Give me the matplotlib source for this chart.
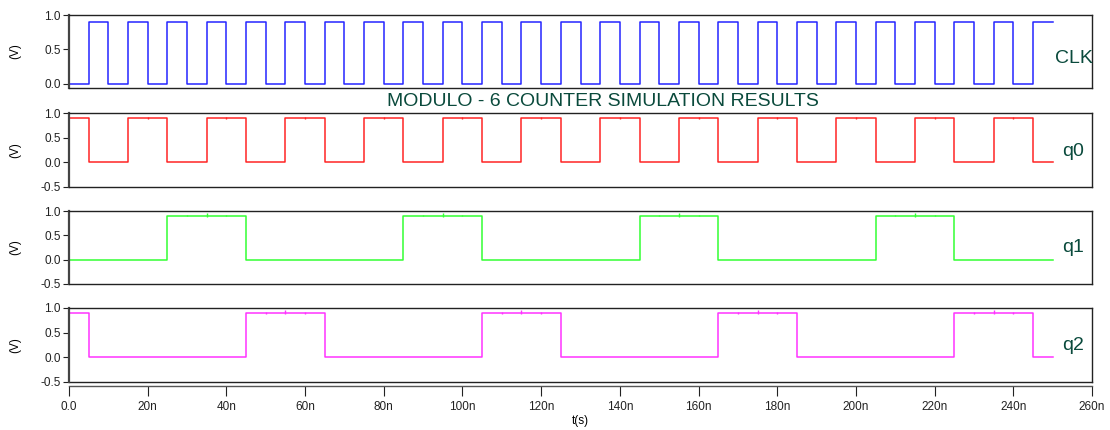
import matplotlib
matplotlib.use("Agg")
import matplotlib.pyplot as plt
import numpy as np

plt.rcParams['font.family'] = ['Liberation Sans', 'DejaVu Sans']

# change points (ns) and level held from that point on (V)
clk_t = [0, 5, 10, 15, 20, 25, 30, 35, 40, 45, 50, 55, 60, 65, 70, 75, 80, 85, 90, 95,
         100, 105, 110, 115, 120, 125, 130, 135, 140, 145, 150, 155, 160, 165, 170, 175,
         180, 185, 190, 195, 200, 205, 210, 215, 220, 225, 230, 235, 240, 245, 250]
clk_v = [0, 0.9, 0, 0.9, 0, 0.9, 0, 0.9, 0, 0.9, 0, 0.9, 0, 0.9, 0, 0.9, 0, 0.9, 0, 0.9,
         0, 0.9, 0, 0.9, 0, 0.9, 0, 0.9, 0, 0.9, 0, 0.9, 0, 0.9, 0, 0.9,
         0, 0.9, 0, 0.9, 0, 0.9, 0, 0.9, 0, 0.9, 0, 0.9, 0, 0.9, 0.9]

q0_t = [0, 5, 15, 25, 35, 45, 55, 65, 75, 85, 95, 105, 115, 125, 135, 145, 155, 165,
        175, 185, 195, 205, 215, 225, 235, 245, 250]
q0_v = [0.9, 0, 0.9, 0, 0.9, 0, 0.9, 0, 0.9, 0, 0.9, 0, 0.9, 0, 0.9, 0, 0.9, 0,
        0.9, 0, 0.9, 0, 0.9, 0, 0.9, 0, 0]

q1_t = [0, 25, 45, 85, 105, 145, 165, 205, 225, 250]
q1_v = [0, 0.9, 0, 0.9, 0, 0.9, 0, 0.9, 0, 0]

q2_t = [0, 5, 45, 65, 105, 125, 165, 185, 225, 245, 250]
q2_v = [0.9, 0, 0.9, 0, 0.9, 0, 0.9, 0, 0.9, 0, 0]

# small glitches on the high level (ns, V above 0.9)
q0_glitch = [20, 40, 60, 80, 100, 120, 140, 160, 180, 200, 220, 240]
q0_glitch_up = [0.02] * 12
q1_glitch = [30, 35, 40, 90, 95, 100, 150, 155, 160, 210, 215, 220]
q1_glitch_up = [0.02, 0.05, 0.02] * 4
q2_glitch = [50, 55, 60, 110, 115, 120, 170, 175, 180, 230, 235, 240]
q2_glitch_up = [0.02, 0.05, 0.02] * 4

names = ["CLK", "q0", "q1", "q2"]
colors = ["#2424ff", "#ff2424", "#33ff33", "#ff33ff"]
label_x = [250.5, 252.5, 252.5, 252.5]
label_y = [0.36, 0.22, 0.26, 0.24]

xticks = [0, 20, 40, 60, 80, 100, 120, 140, 160, 180, 200, 220, 240, 260]
xticklabels = ["0.0", "20n", "40n", "60n", "80n", "100n", "120n", "140n", "160n",
               "180n", "200n", "220n", "240n", "260n"]

txt_col = "#0a4a3c"

fig = plt.figure(figsize=(11.1, 4.3), dpi=100)
left, width = 69 / 1110, 1023 / 1110
boxes = [(15, 88), (113, 187), (211, 284), (308, 382)]

series = [(clk_t, clk_v, [], []),
          (q0_t, q0_v, q0_glitch, q0_glitch_up),
          (q1_t, q1_v, q1_glitch, q1_glitch_up),
          (q2_t, q2_v, q2_glitch, q2_glitch_up)]

for i, (top, bot) in enumerate(boxes):
    ax = fig.add_axes([left, 1 - bot / 430, width, (bot - top) / 430])
    t, v, gt, gu = series[i]
    ax.plot(t, v, drawstyle="steps-post", color=colors[i], lw=1.1)
    if gt:
        ax.vlines(gt, [0.9 - u * 0.6 for u in gu], [0.9 + u for u in gu],
                  color=colors[i], lw=1.0)
    ax.set_xlim(0, 260)
    if i == 0:
        ax.set_ylim(-0.062, 1.0)
        ax.set_yticks([0.0, 0.5, 1.0])
        ax.set_yticklabels(["0.0", "0.5", "1.0"])
    else:
        ax.set_ylim(-0.5, 1.0)
        ax.set_yticks([-0.5, 0.0, 0.5, 1.0])
        ax.set_yticklabels(["-0.5", "0.0", "0.5", "1.0"])
    ax.set_ylabel("(V)", fontsize=8.5)
    ax.yaxis.set_label_coords(-0.047, 0.5)
    ax.text(label_x[i], label_y[i], names[i], color=txt_col, fontsize=14,
            va="center", ha="left")
    ax.tick_params(axis="y", direction="out", length=4, width=0.8, labelsize=8.5,
                   colors="#222222", pad=2)
    for s in ax.spines.values():
        s.set_color("#222222")
        s.set_linewidth(1.0)
    ax.spines["left"].set_linewidth(1.6)
    ax.spines["left"].set_color("#444444")
    if i < 3:
        ax.set_xticks([])
    else:
        # separate time axis just below the last frame
        ax.spines["bottom"].set_position(("outward", 3))
        ax.spines["bottom"].set_color("#555555")
        ax.axhline(-0.5, color="#222222", lw=1.0, clip_on=False)
        ax.set_xticks(xticks)
        ax.set_xticklabels(xticklabels)
        ax.tick_params(axis="x", direction="out", length=7, width=0.8,
                       labelsize=8.5, colors="#222222", pad=4)
        ax.set_xlabel("t(s)", fontsize=8.5, labelpad=1)

fig.text(603 / 1110, 1 - 101 / 430, "MODULO - 6 COUNTER SIMULATION RESULTS",
         color=txt_col, fontsize=14, ha="center", va="center")

fig.savefig("out.png", dpi=100)
